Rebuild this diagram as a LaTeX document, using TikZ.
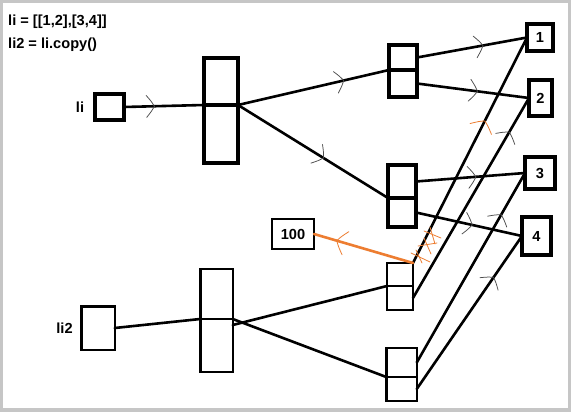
\documentclass[tikz,border=0pt]{standalone}
\usepackage{fontspec}
\setmainfont{Liberation Sans}
\usetikzlibrary{decorations.markings}
\definecolor{pen}{RGB}{237,125,49}
\definecolor{frame}{RGB}{198,198,198}
\tikzset{
  every node/.style={font=\fontsize{14.6}{16}\selectfont\bfseries},
  cell/.style={draw, inner sep=0pt, outer sep=0pt},
  heavy/.style={cell, line width=4pt},
  light/.style={cell, line width=2.5pt},
  link/.style={line width=2.6pt, line cap=round},
  chev/.style={postaction={decorate, decoration={markings,
      mark=at position #1 with {\draw[line width=0.75pt, black!70, line cap=round]
        (-8pt,-11pt) .. controls (-3pt,-5pt) .. (0pt,0pt)
        .. controls (-3pt,5pt) .. (-8pt,11pt);}}}},
  ochev/.style={postaction={decorate, decoration={markings,
      mark=at position #1 with {\draw[line width=0.8pt, pen, line cap=round]
        (-9pt,-12pt) .. controls (-3pt,-5pt) .. (0pt,0pt)
        .. controls (-3pt,5pt) .. (-9pt,12pt);}}}},
  scribble/.style={line width=0.8pt, pen, line cap=round},
}
\begin{document}
\begin{tikzpicture}[x=1pt,y=-1pt]
  % page frame
  \fill[frame] (0,0) rectangle (571,412);
  \fill[white] (3,3) rectangle (568,408);
  \useasboundingbox (0,0) rectangle (571,412);

  % source lines
  \node[anchor=base west, inner sep=0pt] (code1) at (8,26) {li = [[1,2],[3,4]]};
  \node[anchor=base west, inner sep=0pt] (code2) at (8,49) {li2 = li.copy()};

  % names
  \node (lilab) at (80,107) {li};
  \node (li2lab) at (64.5,328) {li2};
  \node[heavy, minimum width=29pt, minimum height=26pt] (li) at (109.5,107) {};
  \node[light, minimum width=33.5pt, minimum height=43.5pt] (li2) at (98,328) {};

  % outer list of li
  \node[heavy, minimum width=34pt, minimum height=47pt] (L1a) at (221,81.5) {};
  \node[heavy, minimum width=34pt, minimum height=58pt] (L1b) at (221,134) {};

  % inner lists [1,2] and [3,4]
  \node[heavy, minimum width=28pt, minimum height=25pt] (Aa) at (403,57.5) {};
  \node[heavy, minimum width=28pt, minimum height=27pt] (Ab) at (403,83.5) {};
  \node[heavy, minimum width=28pt, minimum height=33pt] (Ba) at (402,181.5) {};
  \node[heavy, minimum width=28pt, minimum height=29pt] (Bb) at (402,212.5) {};

  % integer objects
  \node[heavy, minimum width=26pt, minimum height=27pt] (n1) at (540,37.5) {1};
  \node[heavy, minimum width=23pt, minimum height=36pt] (n2) at (540.5,98) {2};
  \node[heavy, minimum width=30pt, minimum height=32pt] (n3) at (540,173) {3};
  \node[heavy, minimum width=29pt, minimum height=38pt] (n4) at (536.5,236) {4};

  % outer list of li2
  \node[light, minimum width=32.5pt, minimum height=50pt] (L2a) at (216.5,294) {};
  \node[light, minimum width=32.5pt, minimum height=53pt] (L2b) at (216.5,345.5) {};

  % copied inner lists
  \node[light, minimum width=26pt, minimum height=23pt] (Ca) at (400,274.5) {};
  \node[light, minimum width=26pt, minimum height=24pt] (Cb) at (400,298) {};
  \node[light, minimum width=30.5pt, minimum height=29pt] (Da) at (401.5,362.5) {};
  \node[light, minimum width=30.5pt, minimum height=24pt] (Db) at (401.5,389) {};

  % new value
  \node[cell, line width=2pt, minimum width=42pt, minimum height=30pt] (v100) at (293,234) {100};

  % references from li
  \draw[link, chev=0.38] (li.east) -- (L1a.south west);
  \draw[link, chev=0.70] (L1a.south east) -- (Aa.south west);
  \draw[link, chev=0.57] (L1a.south east) -- (Ba.south west);
  \draw[link, chev=0.60] (Aa.east) -- (n1.west);
  \draw[link, chev=0.54] (Ab.east) -- (n2.west);
  \draw[link, chev=0.55] (Ba.east) -- (n3.west);
  \draw[link, chev=0.53] (Bb.east) -- (n4.west);

  % references from li2
  \draw[link] (li2.east) -- (L2a.south west);
  \draw[link] ([yshift=-6pt]L2a.south east) -- (Ca.south west);
  \draw[link] (L2a.south east) -- (Da.south west);
  \draw[link, ochev=0.63] (Ca.north east) -- (n1.west);
  \draw[link, chev=0.83] (Cb.east) -- (n2.west);
  \draw[link, chev=0.78] (Da.east) -- (n3.west);
  \draw[link, chev=0.73] (Db.east) -- (n4.west);

  % reassignment to 100
  \draw[link, pen, ochev=0.77] (Ca.north east) -- (v100.east);

  % crossed-out strokes
  \draw[scribble] (424,231) -- (441,238);
  \draw[scribble] (430,227) -- (435,244);
  \draw[scribble] (418,246) -- (437,243);
  \draw[scribble] (424,238) -- (431,254);
  \draw[scribble] (411,253) -- (430,262);
  \draw[scribble] (416,250) -- (422,263);
\end{tikzpicture}
\end{document}
